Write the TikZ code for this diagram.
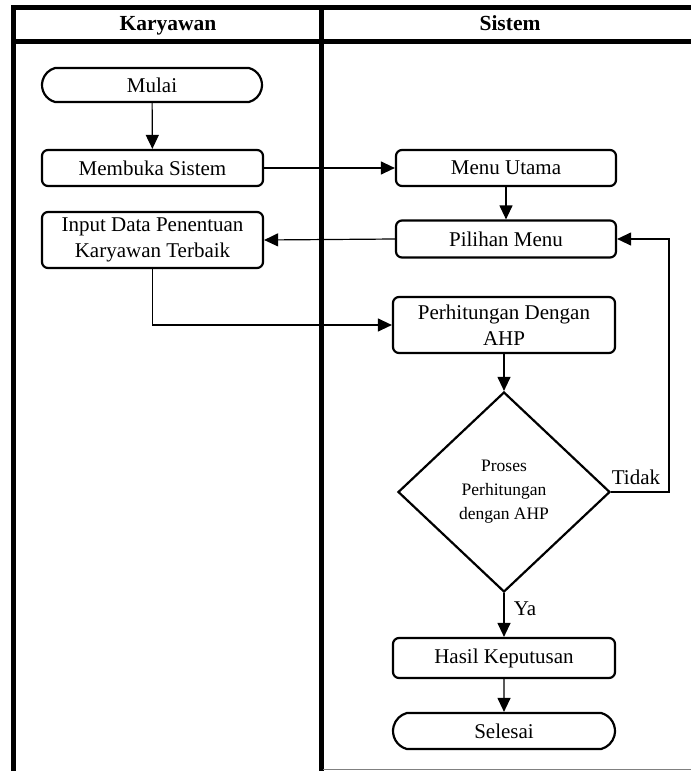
\documentclass[tikz,border=0pt]{standalone}
\usepackage{fontspec}
\setmainfont{Liberation Serif}
\usetikzlibrary{arrows.meta,shapes.geometric,shapes.misc}
\begin{document}
\begin{tikzpicture}[x=1pt,y=-1pt,
  lane/.style={line width=5pt},
  box/.style={draw,line width=2.2pt,rounded corners=6pt,align=center,inner sep=0pt,
    font=\fontsize{21}{26}\selectfont},
  term/.style={draw,line width=2.2pt,rounded rectangle,rounded rectangle arc length=150,align=center,inner sep=0pt,
    font=\fontsize{21}{26}\selectfont},
  dec/.style={draw,line width=2.2pt,diamond,inner sep=0pt,align=center,
    font=\fontsize{17.5}{24}\selectfont},
  conn/.style={line width=1.2pt},
  arr/.style={conn,-{Triangle[length=14pt,width=13pt]}},
  lbl/.style={font=\fontsize{21}{25}\selectfont,inner sep=0pt},
  hdr/.style={font=\bfseries\fontsize{21.5}{25}\selectfont,inner sep=0pt,anchor=base}]
\useasboundingbox (0,0) rectangle (691,771);
% lanes
\draw[lane,line join=miter] (13.5,771) -- (13.5,7.5) -- (691,7.5);
\draw[lane] (11,41.5) -- (691,41.5);
\draw[lane] (321,7.5) -- (321,771);
\draw[line width=1.5pt,gray] (323,769.5) -- (691,769.5);
\node[hdr] (h1) at (168,30) {Karyawan};
\node[hdr] (h2) at (510,30) {Sistem};
% nodes
\node[term,minimum width=220pt,minimum height=34pt] (mulai) at (152,85) {Mulai};
\node[box,minimum width=221pt,minimum height=36pt] (membuka) at (152.5,168) {Membuka Sistem};
\node[box,minimum width=221pt,minimum height=56pt] (input) at (152.5,240) {Input Data Penentuan\\Karyawan Terbaik};
\node[box,minimum width=220pt,minimum height=36pt] (menu) at (506,168) {Menu Utama};
\node[box,minimum width=220pt,minimum height=37pt] (pilihan) at (506,239) {Pilihan Menu};
\node[box,minimum width=222pt,minimum height=56pt] (hitung) at (504,325) {Perhitungan Dengan\\AHP};
\node[dec,minimum width=212pt,minimum height=200pt] (proses) at (504,492) {Proses\\Perhitungan\\dengan AHP};
\node[box,minimum width=222pt,minimum height=40pt] (hasil) at (504,658) {Hasil Keputusan};
\node[term,minimum width=222pt,minimum height=36pt] (selesai) at (504,731) {Selesai};
\coordinate (loop) at (669,492);
% connectors
\draw[arr] (mulai) -- (membuka);
\draw[arr] (membuka) -- (menu);
\draw[arr] (menu) -- (pilihan);
\draw[arr] (pilihan.west) -- (input.east);
\draw[arr] (input.south) |- (hitung.west);
\draw[arr] (hitung) -- (proses);
\draw[arr] (proses.east) -- (loop) |- (pilihan.east);
\draw[arr] (proses.south) -- (hasil.north);
\draw[arr] (hasil) -- (selesai);
\node[lbl] (tidak) at (636,477) {Tidak};
\node[lbl] (ya) at (525,609) {Ya};
\end{tikzpicture}
\end{document}
